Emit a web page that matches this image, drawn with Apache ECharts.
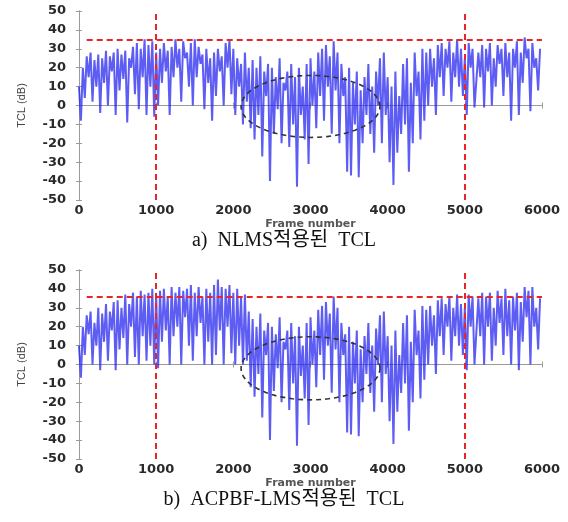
<!DOCTYPE html>
<html><head><meta charset="utf-8">
<script src="https://cdn.jsdelivr.net/npm/echarts@6/dist/echarts.min.js"></script>
<style>html,body{margin:0;padding:0;background:#fff}#c{width:568px;height:522px}</style>
</head><body><div id="c"></div>
<script>
// frame step between samples
const STEP = 25;
const xTicks = [0, 1000, 2000, 3000, 4000, 5000, 6000];
const yTicks = [-50, -40, -30, -20, -10, 0, 10, 20, 30, 40, 50];

// a) NLMS TCL (dB), one value every STEP frames
const tclNLMS = [
  10, -8, 20, 4, 26, 15, 28, 2, 24, 10,
  27, -4, 25, 12, 29, 0, 26, 18, 28, -5,
  30, 8, 27, 14, 29, -9, 25, 20, 31, 6,
  33, -2, 30, 15, 35, -5, 32, 10, 34, -6,
  28, 0, 30, 12, 33, 18, 29, -5, 31, 15,
  35, 20, 30, 2, 34, 25, 28, 10, 33, 0,
  35, 15, 31, 22, 27, -2, 30, 12, 25, -8,
  28, 5, 30, 18, 26, 0, 33, 20, 35, 6,
  30, -5, 25, 10, 22, -10, 28, 2, 20, -12,
  24, -18, 20, -5, 26, -27, 18, 5, 22, -40,
  20, -15, 15, -2, 25, -20, 12, 8, 18, -22,
  22, -10, 15, -43, 20, -5, 10, -18, 22, -31,
  25, 0, 18, -12, 28, 5, 30, -8, 32, 10,
  26, -15, 34, 8, 28, -20, 22, 5, 15, -35,
  20, -37, 12, -10, 18, -38, 8, -20, 15, -5,
  22, -15, 10, -25, 18, 0, 25, -20, 28, -5,
  15, -30, 10, -42, 18, -25, 5, -15, 22, -10,
  25, -35, 12, -20, 28, 5, 18, -18, 30, -8,
  28, 0, 30, 10, 25, -5, 32, 15, 33, 5,
  30, 20, 34, 2, 28, 15, 35, 10, 30, 5,
  25, -5, 33, 20, 30, -1, -1, 28, 15, 32,
  -1, 30, 18, 33, 0, 25, 10, 32, 22, 30,
  5, 33, 15, 28, -8, 30, 20, 34, -5, 28,
  12, 36, 25, 30, -3, 33, 20, 25, 8, 30
];

// b) ACPBF-LMS TCL (dB), one value every STEP frames
const tclACPBF = [
  10, -7, 20, 5, 26, 16, 28, 0, 22, 10,
  30, -3, 27, 12, 32, 2, 28, 18, 33, -3,
  34, 8, 30, 14, 37, 0, 32, 20, 38, 4,
  36, 0, 39, 15, 37, 2, 38, 10, 40, 0,
  37, -2, 39, 12, 40, 18, 36, 0, 41, 15,
  38, 20, 41, 0, 39, 25, 40, 10, 42, 2,
  38, 15, 41, 22, 36, 0, 40, 12, 38, 0,
  42, 5, 45, 18, 41, 0, 40, 20, 42, 6,
  38, 0, 40, 10, 36, 0, 37, 2, 28, -12,
  24, -17, 20, -5, 27, -28, 18, 5, 22, -40,
  20, -14, 16, -2, 25, -20, 12, 8, 18, -24,
  22, -10, 15, -43, 20, -6, 10, -18, 22, -32,
  25, 0, 18, -12, 29, 5, 31, -8, 33, 10,
  27, -15, 36, 8, 30, -20, 22, 5, 16, -36,
  20, -37, 12, -10, 18, -38, 8, -20, 15, -5,
  22, -15, 10, -25, 19, 0, 26, -20, 28, -5,
  15, -30, 10, -42, 18, -25, 5, -15, 22, -10,
  26, -35, 12, -20, 29, 5, 18, -18, 31, -8,
  29, 0, 31, 10, 26, -5, 34, 15, 35, 5,
  32, 20, 36, 2, 30, 15, 37, 10, 32, 5,
  30, -3, 37, 20, 36, 0, 0, 35, 15, 38,
  0, 36, 20, 38, 2, 30, 10, 39, 22, 35,
  5, 40, 15, 34, 0, 36, 18, 38, -3, 33,
  12, 41, 25, 39, 0, 41, 20, 30, 8, 35
];

// reference lines
const vLines = [1000, 5000];
const hLineA = 35, hLineB = 36;
const hLineStart = 100;
// dashed ellipse annotations: [centerFrame, centerDb, radiusFrames, radiusDb]
const ellipseA = [3000, -0.5, 900, 16.4];
const ellipseB = [3000, -2, 900, 16.7];

const captions = ['a)  NLMS적용된  TCL', 'b)  ACPBF-LMS적용된  TCL'];

function pairs(arr) { return arr.map((v, i) => [i * STEP, v]); }
function ellipsePts(e) {
  const pts = [];
  for (let k = 0; k <= 72; k++) {
    const t = k / 72 * Math.PI * 2;
    pts.push([e[0] + e[2] * Math.cos(t), e[1] + e[3] * Math.sin(t)]);
  }
  return pts;
}

const labelFont = { fontFamily: 'DejaVu Sans', fontWeight: 'bold', fontSize: 13, color: '#2a2a2a' };
const axisLineStyle = { lineStyle: { color: '#9a9a9a', width: 1 } };
const plain = v => String(v);

function grids() {
  return [
    { left: 79, top: 11, width: 463, height: 189 },
    { left: 79, top: 270, width: 463, height: 189 }
  ];
}
function xAxes() {
  const out = [];
  for (let g = 0; g < 2; g++) {
    out.push({
      type: 'value', gridIndex: g, min: 0, max: 6000, interval: 1000, position: 'bottom',
      axisLine: axisLineStyle, axisTick: { inside: true, length: 3, lineStyle: { color: '#9a9a9a' } },
      splitLine: { show: false },
      axisLabel: Object.assign({ margin: 4, formatter: plain }, labelFont),
      name: 'Frame number', nameLocation: 'middle', nameGap: 19,
      nameTextStyle: { fontFamily: 'DejaVu Sans', fontWeight: 'bold', fontSize: 11, color: '#555' }
    });
    out.push({
      type: 'value', gridIndex: g, min: 0, max: 6000, interval: 1000, position: 'top',
      axisLine: axisLineStyle, axisTick: { inside: true, length: 3, lineStyle: { color: '#9a9a9a' } },
      splitLine: { show: false }, axisLabel: { show: false }
    });
  }
  return out;
}
function yAxes() {
  const out = [];
  for (let g = 0; g < 2; g++) {
    out.push({
      type: 'value', gridIndex: g, min: -50, max: 50, interval: 10, position: 'left',
      axisLine: axisLineStyle, axisTick: { inside: true, length: 3, lineStyle: { color: '#9a9a9a' } },
      splitLine: { show: false },
      axisLabel: Object.assign({ margin: 13, formatter: plain }, labelFont),
      name: 'TCL (dB)', nameLocation: 'middle', nameGap: 52, nameRotate: 90,
      nameTextStyle: { fontFamily: 'Liberation Sans Narrow, Liberation Sans', fontSize: 11, color: '#444' }
    });
    out.push({
      type: 'value', gridIndex: g, min: -50, max: 50, interval: 10, position: 'right',
      axisLine: axisLineStyle, axisTick: { inside: true, length: 3, lineStyle: { color: '#9a9a9a' } },
      splitLine: { show: false }, axisLabel: { show: false }
    });
  }
  return out;
}

function redMarks(hVal) {
  return {
    silent: true, symbol: ['none', 'none'], label: { show: false },
    lineStyle: { color: '#e8262a', width: 2, type: [6, 4], opacity: 1 },
    data: vLines.map(v => ({ xAxis: v })).concat([[{ coord: [hLineStart, hVal] }, { coord: [6000, hVal] }]])
  };
}

function signal(data, g, hVal) {
  return {
    type: 'line', xAxisIndex: g * 2, yAxisIndex: g * 2, data: pairs(data),
    showSymbol: false, animation: false,
    lineStyle: { color: 'rgba(30,30,240,0.72)', width: 2 },
    markLine: redMarks(hVal)
  };
}
function ellipseSeries(e, g) {
  return {
    type: 'line', xAxisIndex: g * 2, yAxisIndex: g * 2, data: ellipsePts(e),
    showSymbol: false, animation: false, smooth: false, silent: true,
    lineStyle: { color: '#333', width: 1.6, type: [5, 4] }, z: 5
  };
}

const chart = echarts.init(document.getElementById('c'), null, { renderer: 'canvas' });
chart.setOption({
  backgroundColor: '#fff',
  animation: false,
  grid: grids(),
  xAxis: xAxes(),
  yAxis: yAxes(),
  series: [
    signal(tclNLMS, 0, hLineA), ellipseSeries(ellipseA, 0),
    signal(tclACPBF, 1, hLineB), ellipseSeries(ellipseB, 1)
  ],
  graphic: [
    { type: 'text', left: 'center', top: 231, style: { text: captions[0], font: '20px "Liberation Serif", "Noto Sans CJK KR", serif', fill: '#111' } },
    { type: 'text', left: 'center', top: 490, style: { text: captions[1], font: '20px "Liberation Serif", "Noto Sans CJK KR", serif', fill: '#111' } }
  ]
});
</script></body></html>
